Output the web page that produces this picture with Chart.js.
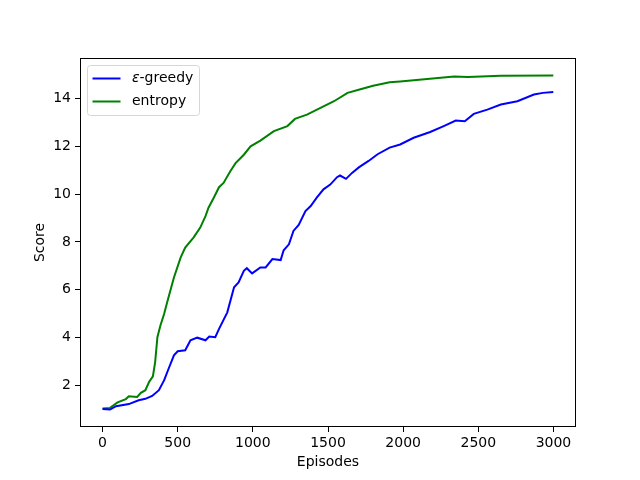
<!DOCTYPE html>
<html>
<head>
<meta charset="utf-8">
<script src="https://cdn.jsdelivr.net/npm/chart.js@4"></script>
<style>
  html, body { margin: 0; padding: 0; background: #fff; }
  #wrap { width: 640px; height: 480px; }
</style>
</head>
<body>
<div id="wrap"><canvas id="chart" width="640" height="480"></canvas></div>
<script>
// epsilon-greedy run (smoothed score per episode)
const greedyEpisodes = [0, 50, 90, 175, 240, 285, 330, 375, 410, 440, 475, 500, 550, 585, 630, 685, 710, 750, 775, 830, 875, 905, 940, 960, 995, 1050, 1085, 1130, 1185, 1205, 1240, 1270, 1305, 1350, 1385, 1425, 1470, 1515, 1560, 1580, 1620, 1660, 1705, 1770, 1830, 1910, 1980, 2070, 2180, 2270, 2350, 2410, 2470, 2560, 2650, 2760, 2870, 2930, 2999];
const greedyScores = [1.0, 0.98, 1.12, 1.21, 1.37, 1.43, 1.55, 1.79, 2.21, 2.7, 3.25, 3.42, 3.46, 3.88, 3.99, 3.88, 4.04, 4.01, 4.36, 5.05, 6.1, 6.3, 6.79, 6.9, 6.68, 6.93, 6.93, 7.28, 7.24, 7.65, 7.9, 8.46, 8.71, 9.29, 9.5, 9.85, 10.2, 10.4, 10.71, 10.78, 10.64, 10.89, 11.12, 11.39, 11.67, 11.95, 12.08, 12.36, 12.6, 12.85, 13.08, 13.05, 13.36, 13.54, 13.75, 13.89, 14.17, 14.24, 14.28];

// entropy run
const entropyEpisodes = [0, 50, 100, 155, 175, 230, 255, 285, 310, 335, 350, 365, 385, 410, 430, 475, 520, 550, 605, 650, 685, 705, 740, 775, 805, 850, 885, 940, 985, 1050, 1140, 1230, 1280, 1360, 1450, 1540, 1630, 1710, 1800, 1910, 1980, 2160, 2340, 2430, 2650, 2999];
const entropyScores = [1.02, 1.05, 1.28, 1.42, 1.54, 1.51, 1.68, 1.79, 2.14, 2.37, 2.97, 4.01, 4.5, 4.99, 5.47, 6.51, 7.35, 7.76, 8.18, 8.6, 9.08, 9.43, 9.85, 10.29, 10.47, 10.96, 11.3, 11.65, 12.0, 12.24, 12.64, 12.85, 13.15, 13.33, 13.61, 13.89, 14.24, 14.38, 14.54, 14.68, 14.72, 14.82, 14.93, 14.9, 14.96, 14.97];

const xTicks = [0, 500, 1000, 1500, 2000, 2500, 3000];
const yTicks = [2, 4, 6, 8, 10, 12, 14];

const FONT = 'DejaVu Sans';

function pts(xs, ys) {
  return xs.map((x, i) => ({ x: x, y: ys[i] }));
}

// matplotlib-like frame + legend box
const frameAndLegend = {
  id: 'frameAndLegend',
  afterDraw(chart) {
    const ctx = chart.ctx;
    const a = chart.chartArea;
    ctx.save();
    ctx.strokeStyle = '#000';
    ctx.lineWidth = 1;
    ctx.strokeRect(Math.round(a.left) + 0.5, Math.round(a.top) + 0.5,
                   Math.round(a.right - a.left) - 1, Math.round(a.bottom - a.top) - 1);

    // legend
    const bx = a.left + 7, by = a.top + 7, bw = 112, bh = 50;
    ctx.beginPath();
    ctx.roundRect(bx + 0.5, by + 0.5, bw, bh, 3);
    ctx.fillStyle = 'rgba(255,255,255,0.8)';
    ctx.fill();
    ctx.strokeStyle = '#d6d6d6';
    ctx.stroke();

    ctx.font = '14px "' + FONT + '"';
    ctx.textBaseline = 'middle';
    chart.data.datasets.forEach((ds, i) => {
      const y = by + 13.5 + i * 23;
      ctx.strokeStyle = ds.borderColor;
      ctx.lineWidth = 2;
      ctx.beginPath();
      ctx.moveTo(bx + 5.5, y);
      ctx.lineTo(bx + 33.5, y);
      ctx.stroke();
      ctx.fillStyle = '#000';
      let tx = bx + 45;
      let label = ds.label;
      if (label.startsWith('ε')) {
        ctx.font = 'italic 14px "' + FONT + '"';
        ctx.fillText('ε', tx, y);
        tx += ctx.measureText('ε').width;
        ctx.font = '14px "' + FONT + '"';
        label = label.slice(1);
      }
      ctx.fillText(label, tx, y);
    });
    ctx.restore();
  }
};

new Chart(document.getElementById('chart'), {
  type: 'line',
  data: {
    datasets: [
      { label: 'ε-greedy', data: pts(greedyEpisodes, greedyScores),
        borderColor: '#0000ff', borderWidth: 2, pointRadius: 0, tension: 0, fill: false },
      { label: 'entropy', data: pts(entropyEpisodes, entropyScores),
        borderColor: '#008000', borderWidth: 2, pointRadius: 0, tension: 0, fill: false }
    ]
  },
  options: {
    responsive: false,
    animation: false,
    layout: { padding: { left: 0, top: 58, right: 64, bottom: 0 } },
    plugins: { legend: { display: false }, tooltip: { enabled: false } },
    scales: {
      x: {
        type: 'linear', min: -150, max: 3150,
        grid: { drawOnChartArea: false, drawTicks: true, tickLength: 5, tickColor: '#000' },
        border: { display: false },
        ticks: { color: '#000', padding: 3, maxRotation: 0, font: { family: FONT, size: 14 },
                 callback: v => String(v) },
        afterBuildTicks: s => { s.ticks = xTicks.map(v => ({ value: v })); },
        afterFit: s => { s.height = 53; },
        title: { display: true, text: 'Episodes', color: '#000',
                 font: { family: FONT, size: 14 }, padding: { top: 0, bottom: 9 } }
      },
      y: {
        min: 0.25, max: 15.7,
        grid: { drawOnChartArea: false, drawTicks: true, tickLength: 5, tickColor: '#000' },
        border: { display: false },
        ticks: { color: '#000', padding: 4, font: { family: FONT, size: 14 },
                 callback: v => String(v) },
        afterBuildTicks: s => { s.ticks = yTicks.map(v => ({ value: v })); },
        afterFit: s => { s.width = 80; },
        title: { display: true, text: 'Score', color: '#000',
                 font: { family: FONT, size: 14 }, padding: { top: 32, bottom: 0 } }
      }
    }
  },
  plugins: [frameAndLegend]
});
</script>
</body>
</html>
